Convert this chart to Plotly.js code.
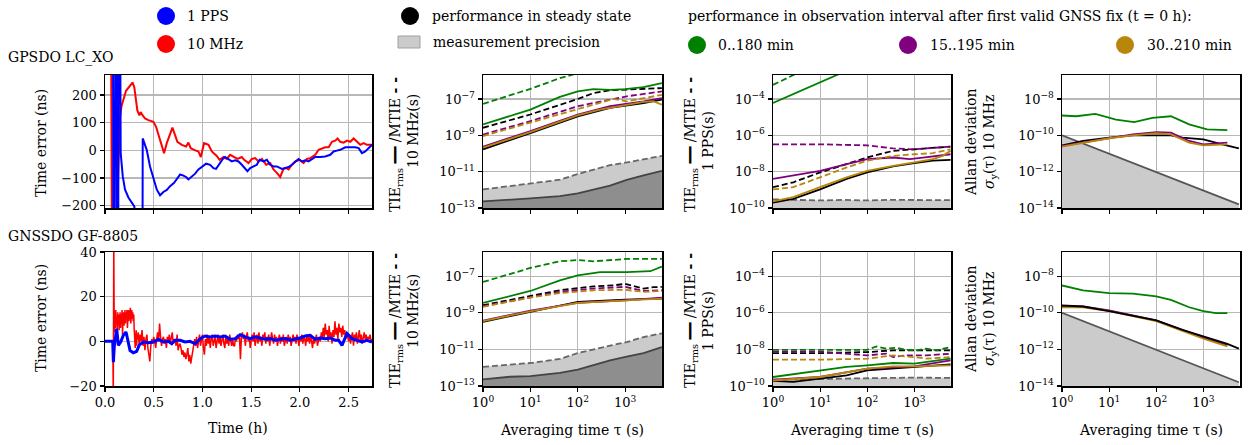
<!DOCTYPE html>
<html><head><meta charset="utf-8">
<script src="https://cdn.plot.ly/plotly-3.0.1.min.js"></script>
<style>html,body{margin:0;padding:0;background:#fff}#c{width:1248px;height:445px}</style>
</head><body><div id="c"></div>
<script>
// ---------------- DATA ----------------
// Time-error series, GPSDO LC_XO (time in h, value in ns)
const gpsRed_t = [0.05,0.085,0.11,0.115,0.154,0.171,0.216,0.240,0.284,0.301,0.332,0.353,0.366,0.387,0.411,0.445,0.497,0.524,0.558,0.606,0.634,0.668,0.692,0.719,0.743,0.788,0.832,0.856,0.880,0.914,0.959,0.983,1.017,1.062,1.096,1.147,1.175,1.216,1.250,1.284,1.318,1.360,1.404,1.428,1.473,1.507,1.541,1.575,1.610,1.654,1.695,1.729,1.764,1.798,1.832,1.860,1.884,1.918,1.952,1.997,2.038,2.072,2.106,2.158,2.192,2.226,2.260,2.295,2.329,2.363,2.387,2.414,2.449,2.483,2.517,2.551,2.586,2.620,2.654,2.688,2.74];
const gpsRed_v = [1500,-1500,-1500,-300,120,162,215,227,245,227,144,126,138,126,115,109,103,85,49,-10,26,55,82,55,31,20,14,28,8,2,-4,-24,26,20,-4,-20,-34,-24,-31,-16,-24,-31,-24,-34,-46,-31,-28,-40,-31,-52,-46,-69,-81,-96,-67,-64,-69,-52,-40,-34,-46,-31,-28,-16,2,8,11,11,31,35,43,31,28,35,31,43,31,20,26,20,20];
const gpsBlue_t = [0.078,0.09,0.115,0.13,0.145,0.161,0.182,0.205,0.240,0.274,0.301,0.34,0.385,0.387,0.428,0.462,0.497,0.531,0.565,0.599,0.634,0.668,0.709,0.743,0.771,0.805,0.832,0.856,0.890,0.925,0.959,0.993,1.038,1.079,1.113,1.140,1.175,1.209,1.233,1.267,1.301,1.336,1.370,1.404,1.438,1.462,1.490,1.524,1.558,1.586,1.627,1.661,1.695,1.729,1.764,1.815,1.849,1.884,1.918,1.952,1.986,2.021,2.055,2.089,2.123,2.158,2.209,2.260,2.312,2.346,2.380,2.414,2.466,2.517,2.568,2.603,2.637,2.671,2.74];
const gpsBlue_v = [1500,-1500,1500,-1500,1500,-10,-93,-141,-170,-188,-202,-400,-400,43,2,-58,-105,-141,-162,-150,-143,-129,-117,-99,-87,-91,-96,-105,-96,-84,-69,-60,-48,-52,-64,-67,-48,-31,-24,-31,-40,-36,-40,-52,-67,-75,-64,-58,-52,-34,-40,-34,-52,-58,-58,-67,-64,-60,-52,-40,-31,-40,-36,-40,-31,-24,-24,-22,-16,-4,-1,2,11,11,11,8,-10,-4,20];

// Time-error series, GNSSDO GF-8805
const gnssRed_t = [0,0.08,0.085,0.09,0.095,0.10,0.105,0.11,0.115,0.12,
 0.125,0.13,0.135,0.14,0.145,0.15,0.155,0.16,0.165,0.17,
 0.175,0.18,0.185,0.19,0.195,0.20,0.205,0.21,0.215,0.22,
 0.225,0.23,0.235,0.24,0.245,0.25,0.255,0.26,0.265,0.27,
 0.275,0.28,0.285,0.29,0.295,0.30,0.305,0.31,0.315,0.32,
 0.325,0.33,0.335,0.34,
 0.35,0.36,0.37,0.38,0.39,0.40,0.41,0.42,0.43,0.44,
 0.45,0.46,0.47,0.48,0.49,0.50,0.51,0.52,0.53,0.54,
 0.55,0.56,0.57,0.58,0.59,0.60,0.61,0.62,0.63,0.64,
 0.65,0.66,0.67,0.68,0.69,0.70,0.71,0.72,0.73,0.74,
 0.75,0.76,0.77,0.78,0.79,0.80,0.81,0.82,0.83,0.84,
 0.85,0.86,0.87,0.88,0.89,0.90,0.91,0.92,0.93,0.94,
 0.95,0.96,0.97,0.98,0.99,1.00,1.01,1.02,1.03,1.04,
 1.05,1.06,1.07,1.08,1.09,1.10,1.11,1.12,1.13,1.14,
 1.15,1.16,1.17,1.18,1.19,1.20,1.21,1.22,1.23,1.24,
 1.25,1.26,1.27,1.28,1.29,1.30,1.31,1.32,1.33,1.34,
 1.35,1.36,1.37,1.38,1.39,1.40,1.41,1.42,1.43,1.44,
 1.45,1.46,1.47,1.48,1.49,1.50,1.51,1.52,1.53,1.54,
 1.55,1.56,1.57,1.58,1.59,1.60,1.61,1.62,1.63,1.64,
 1.65,1.66,1.67,1.68,1.69,1.70,1.71,1.72,1.73,1.74,
 1.75,1.76,1.77,1.78,1.79,1.80,1.81,1.82,1.83,1.84,
 1.85,1.86,1.87,1.88,1.89,1.90,1.91,1.92,1.93,1.94,
 1.95,1.96,1.97,1.98,1.99,2.00,2.01,2.02,2.03,2.04,
 2.05,2.06,2.07,2.08,2.09,2.10,2.11,2.12,2.13,2.14,
 2.15,2.16,2.17,2.18,2.19,2.20,2.21,2.22,2.23,2.24,
 2.25,2.26,2.27,2.28,2.29,2.30,2.31,2.32,2.33,2.34,
 2.35,2.36,2.37,2.38,2.39,2.40,2.41,2.42,2.43,2.44,
 2.45,2.46,2.47,2.48,2.49,2.50,2.51,2.52,2.53,2.54,
 2.55,2.56,2.57,2.58,2.59,2.60,2.61,2.62,2.63,2.64,
 2.65,2.66,2.67,2.68,2.69,2.70,2.71,2.72,2.73,2.74];
const gnssRed_v = [0,0,-25,45,4,12,6,14,8,11,
 4,13,7,12,5,10,13,6,12,9,
 14,3,11,13,7,12,14,8,13,10,
 14,6,12,14,9,13,11,15,8,12,
 14,10,13,9,12,5,0,-3,2,5,
 -2,3,1,4,
 -1,3,0,5,-2,2,-4,1,3,-3,
 -7,-9,-2,1,-1,2,0,-3,1,4,
 0,8,2,-2,1,2,-1,1,-3,2,
 0,3,-1,1,4,-1,1,0,-2,3,
 -4,-2,-1,-3,-6,-4,-7,-5,-8,-6,
 -3,-9,-6,-10,-7,-4,-1,1,-2,2,
 -3,0,3,-2,1,3,-3,-6,1,-2,
 3,-1,2,-3,1,3,-2,0,2,-3,
 1,3,-1,2,-2,0,3,-1,-3,2,
 -1,1,-2,3,0,-2,1,-2,-2,2,
 0,3,1,2,-8,2,4,1,3,-2,
 2,4,0,2,-3,1,3,0,4,-2,
 2,3,-1,4,0,2,-2,3,1,4,
 -1,2,0,3,-2,2,4,1,-1,3,
 0,2,-2,1,3,-1,2,0,3,-2,
 1,2,-1,3,0,2,-2,1,3,0,
 2,-1,3,1,-2,2,0,3,-1,2,
 1,-2,3,0,2,-1,3,0,-3,2,
 -1,1,3,-2,1,2,0,4,1,6,
 2,8,3,5,0,7,2,4,-1,5,
 2,9,3,6,1,8,4,6,2,7,
 3,5,1,4,2,0,3,-1,2,4,
 -2,3,1,4,-1,2,5,0,3,-1,
 2,4,1,3,0,2,1,3,0,1];
const gnssBlue_t = [0,0.079,0.086,0.096,0.120,0.137,0.161,0.188,0.216,0.233,0.257,0.291,0.325,0.353,0.394,0.445,0.497,0.548,0.599,0.651,0.685,0.719,0.771,0.822,0.873,0.925,0.976,1.027,1.079,1.130,1.182,1.233,1.284,1.336,1.387,1.438,1.490,1.541,1.592,1.644,1.695,1.747,1.798,1.849,1.901,1.952,2.003,2.055,2.106,2.158,2.209,2.260,2.312,2.363,2.397,2.432,2.483,2.534,2.586,2.637,2.688,2.74];
const gnssBlue_v = [0,0,-9.3,-1.8,5.7,-1.8,-0.3,2.7,4.2,0.5,-4.1,-5.1,-4.5,-1.5,-0.3,-0.6,-0.3,0.9,-0.3,0,-1.1,0.5,0.5,-0.3,0,-1.1,1.2,2.4,2.0,2.4,2.0,2.4,0.9,1.2,3.0,2.0,1.2,2.0,1.5,0.9,1.2,0.5,0.9,1.2,0.5,0.9,1.5,2.4,2.7,0.9,1.5,1.2,1.5,0.5,0.5,-1.8,3.5,1.2,0.5,-0.3,0.5,-0.3];

// TIE / MTIE, 10 MHz, GPSDO (tau s, value s)
const g10_mtieGreen_tau = [1,10,42,100];
const g10_mtieGreen = [5.4e-8,3.6e-7,1.4e-6,2.6e-6];
const g10_tieGreen_tau = [1,10,42,100,213,480,1000,2450,5960];
const g10_tieGreen = [4.0e-9,2.6e-8,1.29e-7,2.6e-7,3.5e-7,3.2e-7,3.5e-7,4.5e-7,7.4e-7];
const g10_mtieBlack_tau = [1,10,100,213,480,1080,5960];
const g10_mtieBlack = [2.6e-9,1.4e-8,1.0e-7,2.1e-7,3.0e-7,3.2e-7,4.0e-7];
const g10_mtiePurple_tau = [1,10,100,480,1080,5960];
const g10_mtiePurple = [1.1e-9,6.0e-9,4.0e-8,9.1e-8,1.4e-7,2.6e-7];
const g10_mtieOrange_tau = [1,10,100,295,565,1080,5960];
const g10_mtieOrange = [9.1e-10,4.9e-9,2.8e-8,6.0e-8,1.0e-7,7.4e-8,1.7e-7];
const g10_tiePurple_tau = [1,10,100,480,2450,5960];
const g10_tiePurple = [2.4e-10,1.7e-9,1.4e-8,4.0e-8,7.4e-8,1.1e-7];
const g10_tieOrange_tau = [1,10,100,295,780,2450,4000,5960];
const g10_tieOrange = [2.1e-10,1.5e-9,1.26e-8,2.6e-8,4.0e-8,6.9e-8,7.4e-8,4.9e-8];
const g10_tieBlack_tau = [1,10,100,480,2450,5960];
const g10_tieBlack = [1.7e-10,1.3e-9,1.1e-8,3.2e-8,6.0e-8,9.1e-8];
const prec10_tau = [1,3.7,10,42,100,480,1080,2450,5960];
const g10_precMtie = [1.05e-12,1.6e-12,2.1e-12,3.6e-12,7.4e-12,2.3e-11,3.2e-11,5.0e-11,7.4e-11];
const g10_precTie = [2.3e-13,2.8e-13,3.4e-13,4.5e-13,6.3e-13,1.7e-12,3.5e-12,6.3e-12,1.1e-11];

// TIE / MTIE, 1 PPS, GPSDO
const g1_mtieGreen_tau = [1,5];
const g1_mtieGreen = [6e-4,4.5e-3];
const g1_tieGreen_tau = [1,10,40];
const g1_tieGreen = [6e-5,8.5e-4,4e-3];
const g1_mtiePurple_tau = [1,10,100,355,1000,2460,5870];
const g1_mtiePurple = [3.2e-7,3.2e-7,2.8e-7,1.9e-7,1.7e-7,2.1e-7,2.4e-7];
const g1_mtieBlack_tau = [1,2.7,10,36.6,100,355,1000,5870];
const g1_mtieBlack = [1.4e-9,2.6e-9,9.1e-9,2.6e-8,6.0e-8,1.4e-7,1.7e-7,2.4e-7];
const g1_tiePurple_tau = [1,2.7,10,36.6,100,355,800,1520,5870];
const g1_tiePurple = [4.0e-9,6.0e-9,1.1e-8,2.6e-8,4.9e-8,6.0e-8,4.9e-8,6.0e-8,9.1e-8];
const g1_mtieOrange_tau = [1,2.7,10,36.6,100,355,1000,2460,5870];
const g1_mtieOrange = [1.05e-9,1.4e-9,4.9e-9,1.7e-8,4.0e-8,7.4e-8,9.1e-8,1.05e-7,1.7e-7];
const g1_tieOrange_tau = [1,2.7,10,36.6,100,355,1000,2460,4000,5870];
const g1_tieOrange = [2.3e-10,4.0e-10,1.4e-9,4.9e-9,1.1e-8,2.1e-8,3.2e-8,4.9e-8,7.4e-8,1.4e-7];
const g1_tieBlack_tau = [1,2.7,10,36.6,100,355,1000,2460,5870];
const g1_tieBlack = [1.95e-10,3.2e-10,1.05e-9,4.0e-9,9.1e-9,1.95e-8,2.95e-8,4.0e-8,4.5e-8];
const prec1_tau = [1,3,10,30,100,300,1000,3000,5870];
const g1_precMtie = [3.0e-10,2.9e-10,2.6e-10,2.8e-10,2.6e-10,2.8e-10,2.7e-10,2.6e-10,2.7e-10];

// Allan deviation, GPSDO
const gAdevGreen_tau = [1,2,5.1,14,34,83,205,500,1200,3230];
const gAdevGreen = [1.23e-9,1.12e-9,1.5e-9,7.4e-10,5.4e-10,9.1e-10,1.12e-9,4.0e-10,2.1e-10,1.95e-10];
const gAdevBlack_tau = [1,2.8,10,32,100,205,360,1000,2520,5670];
const gAdevBlack = [2.8e-11,4.9e-11,7.4e-11,1.0e-10,1.0e-10,1.0e-10,7.4e-11,6.0e-11,3.2e-11,1.9e-11];
const gAdevColor_tau = [1,10,32,100,205,500,1000,3230];
const gAdevPurple = [2.6e-11,7.1e-11,1.12e-10,1.5e-10,1.4e-10,4.9e-11,3.2e-11,4.0e-11];
const gAdevOrange = [2.4e-11,6.9e-11,1.0e-10,1.3e-10,1.12e-10,4.0e-11,2.8e-11,3.2e-11];
const adevPrec_tau = [1,10,100,1000,5670];
const adevPrec = [1e-10,1e-11,1e-12,1e-13,1.6e-14];

// TIE / MTIE, 10 MHz, GNSSDO
const n10_mtieGreen_tau = [1,3.7,10,42,100,213,480,1080,5960];
const n10_mtieGreen = [4.8e-8,1.35e-7,2.8e-7,6.5e-7,7.6e-7,6.5e-7,7.6e-7,8.7e-7,8.7e-7];
const n10_tieGreen_tau = [1,3.7,10,42,100,295,1080,3400,5960];
const n10_tieGreen = [3.5e-9,7.9e-9,1.55e-8,5.9e-8,1.1e-7,1.66e-7,1.66e-7,1.86e-7,3.3e-7];
const n10_mtieBlack_tau = [1,10,42,213,600,1000,1500,2450,4000,5960];
const n10_mtieBlack = [2.6e-9,7.9e-9,1.7e-8,2.75e-8,3.2e-8,3.8e-8,2.8e-8,2.1e-8,2.5e-8,2.6e-8];
const n10_mtieColor_tau = [1,10,42,213,1000,2450,5960];
const n10_mtiePurple = [2.3e-9,7.2e-9,1.4e-8,2.1e-8,2.6e-8,1.55e-8,1.7e-8];
const n10_mtieOrange = [2.1e-9,6.8e-9,1.2e-8,1.7e-8,1.8e-8,1.4e-8,1.55e-8];
const n10_tie_tau = [1,10,100,1000,5960];
const n10_tiePurple = [3.7e-10,1.3e-9,3.5e-9,4.8e-9,6.8e-9];
const n10_tieBlack = [3.2e-10,1.1e-9,3.9e-9,5.2e-9,5.9e-9];
const n10_tieOrange = [3.5e-10,1.2e-9,3.5e-9,4.5e-9,5.9e-9];
const n10_precMtie = [1.1e-12,1.5e-12,1.8e-12,3.0e-12,6.3e-12,1.6e-11,2.5e-11,4.7e-11,7.6e-11];
const n10_precTie = [2.3e-13,3.2e-13,3.5e-13,5.2e-13,7.9e-13,2.5e-12,4.0e-12,6.3e-12,1.35e-11];

// TIE / MTIE, 1 PPS, GNSSDO
const n1_mtieGreen_tau = [1,10,100,158,256,417,680,1100,1800,2900,5870];
const n1_mtieGreen = [9.5e-9,9.5e-9,9.5e-9,1.45e-8,1.1e-8,1.23e-8,9.5e-9,8.9e-9,1.1e-8,8.9e-9,1.35e-8];
const n1_mtieBlack_tau = [1,10,100,355,1000,5870];
const n1_mtieBlack = [6.3e-9,6.3e-9,7.1e-9,8.9e-9,8.9e-9,8.9e-9];
const n1_mtiePurple_tau = [1,10,100,256,355,680,1800,5870];
const n1_mtiePurple = [7.6e-9,7.6e-9,4.7e-9,5.8e-9,3.8e-9,4.7e-9,4.7e-9,5.8e-9];
const n1_mtieOrange_tau = [1,10,100,355,1000,1800,5870];
const n1_mtieOrange = [2.75e-9,2.75e-9,3.1e-9,4.7e-9,3.8e-9,3.1e-9,3.8e-9];
const n1_tieGreen_tau = [1,10,36.6,100,355,1000,5870];
const n1_tieGreen = [3.1e-10,7.1e-10,1.1e-9,1.35e-9,1.8e-9,1.66e-9,3.1e-9];
const n1_tiePurple_tau = [1,10,100,1000,5870];
const n1_tiePurple = [2.2e-10,3.1e-10,8.9e-10,1.17e-9,2.5e-9];
const n1_tieOrange_tau = [1,10,100,355,1000,5870];
const n1_tieOrange = [2.0e-10,3.1e-10,8.9e-10,1.17e-9,1.17e-9,1.35e-9];
const n1_tieBlack_tau = [1,2.7,10,36.6,100,1000,5870];
const n1_tieBlack = [1.9e-10,1.66e-10,2.5e-10,3.8e-10,7.1e-10,1.1e-9,1.5e-9];
const n1_precMtie = [2.2e-10,2.3e-10,2.4e-10,2.6e-10,2.8e-10,3.0e-10,2.9e-10,2.8e-10,2.8e-10];

// Allan deviation, GNSSDO
const nAdevGreen_tau = [1,2.8,10,32,100,205,500,1000,1850,3230];
const nAdevGreen = [3.1e-9,1.66e-9,1.17e-9,1.1e-9,7.8e-10,5.1e-10,2.0e-10,1.23e-10,9.5e-11,9.5e-11];
const nAdevBlack_tau = [1,2.8,10,32,100,360,1000,3230,5670];
const nAdevBlack = [2.5e-10,2.2e-10,1.23e-10,7.1e-11,3.8e-11,1.17e-11,5.1e-12,2.0e-12,1.1e-12];
const nAdevColor_tau = [1,2.8,10,100,1000,3230];
const nAdevPurple = [2.2e-10,2.2e-10,1.35e-10,3.8e-11,4.4e-12,1.66e-12];
const nAdevOrange = [2.0e-10,2.0e-10,1.23e-10,3.5e-11,3.8e-12,1.45e-12];

// Tick labels
const timeTicks = [0,0.5,1,1.5,2,2.5];
const timeTickText = ['0.0','0.5','1.0','1.5','2.0','2.5'];
const tauTicks = [1,10,100,1000];
const tauTickText = ['10<sup>0</sup>','10<sup>1</sup>','10<sup>2</sup>','10<sup>3</sup>'];
const teTicks1 = [-200,-100,0,100,200];
const teTicks2 = [-20,0,20,40];
const tie10Ticks = [1e-13,1e-11,1e-9,1e-7];
const tie10Text = ['10<sup>−13</sup>','10<sup>−11</sup>','10<sup>−9</sup>','10<sup>−7</sup>'];
const tie1Ticks = [1e-10,1e-8,1e-6,1e-4];
const tie1Text = ['10<sup>−10</sup>','10<sup>−8</sup>','10<sup>−6</sup>','10<sup>−4</sup>'];
const adevTicks = [1e-14,1e-12,1e-10,1e-8];
const adevText = ['10<sup>−14</sup>','10<sup>−12</sup>','10<sup>−10</sup>','10<sup>−8</sup>'];

// ---------------- STYLE / LAYOUT ----------------
const W = 1248, H = 445, F = '"DejaVu Serif", serif';
const GREEN = '#008000', PURPLE = '#800080', GOLD = '#b8860b', BLACK = '#000000';
const LIGHT = '#cbcbcb', DARK = '#8e8e8e';
const px = x => x / W, py = y => 1 - y / H;

function ln(xa, ya, x, y, color, dash, width, extra) {
  return Object.assign({type:'scatter', mode:'lines', xaxis:xa, yaxis:ya, x:x, y:y,
    line:{color:color, width:width||1.8, dash:dash?'6px,3px':'solid'}, hoverinfo:'skip', showlegend:false}, extra||{});
}
function fillTr(xa, ya, x, y, fillc, linec, dash) {
  return ln(xa, ya, x, y, linec, dash, 1.8, {fill:'tozeroy', fillcolor:fillc});
}

const traces = [];
// Col 1
traces.push(ln('x','y', gpsRed_t, gpsRed_v, '#ff0000', false, 2));
traces.push(ln('x','y', gpsBlue_t, gpsBlue_v, '#0000ff', false, 2));
traces.push(ln('x5','y5', gnssRed_t, gnssRed_v, '#ff0000', false, 1.5));
traces.push(ln('x5','y5', gnssBlue_t, gnssBlue_v, '#0000ff', false, 3));
// Col 2 row 1
traces.push(fillTr('x2','y2', prec10_tau, g10_precMtie, LIGHT, '#666666', true));
traces.push(fillTr('x2','y2', prec10_tau, g10_precTie, DARK, '#444444', false));
traces.push(ln('x2','y2', g10_tieBlack_tau, g10_tieBlack, BLACK, false));
traces.push(ln('x2','y2', g10_mtieBlack_tau, g10_mtieBlack, BLACK, true));
traces.push(ln('x2','y2', g10_tieGreen_tau, g10_tieGreen, GREEN, false));
traces.push(ln('x2','y2', g10_mtieGreen_tau, g10_mtieGreen, GREEN, true));
traces.push(ln('x2','y2', g10_tiePurple_tau, g10_tiePurple, PURPLE, false));
traces.push(ln('x2','y2', g10_mtiePurple_tau, g10_mtiePurple, PURPLE, true));
traces.push(ln('x2','y2', g10_tieOrange_tau, g10_tieOrange, GOLD, false));
traces.push(ln('x2','y2', g10_mtieOrange_tau, g10_mtieOrange, GOLD, true));
// Col 3 row 1
traces.push(fillTr('x3','y3', prec1_tau, g1_precMtie, LIGHT, '#666666', true));
traces.push(ln('x3','y3', g1_tieBlack_tau, g1_tieBlack, BLACK, false));
traces.push(ln('x3','y3', g1_mtieBlack_tau, g1_mtieBlack, BLACK, true));
traces.push(ln('x3','y3', g1_tieGreen_tau, g1_tieGreen, GREEN, false));
traces.push(ln('x3','y3', g1_mtieGreen_tau, g1_mtieGreen, GREEN, true));
traces.push(ln('x3','y3', g1_tiePurple_tau, g1_tiePurple, PURPLE, false));
traces.push(ln('x3','y3', g1_mtiePurple_tau, g1_mtiePurple, PURPLE, true));
traces.push(ln('x3','y3', g1_tieOrange_tau, g1_tieOrange, GOLD, false));
traces.push(ln('x3','y3', g1_mtieOrange_tau, g1_mtieOrange, GOLD, true));
// Col 4 row 1
traces.push(fillTr('x4','y4', adevPrec_tau, adevPrec, LIGHT, '#555555', false));
traces.push(ln('x4','y4', gAdevBlack_tau, gAdevBlack, BLACK, false));
traces.push(ln('x4','y4', gAdevGreen_tau, gAdevGreen, GREEN, false));
traces.push(ln('x4','y4', gAdevColor_tau, gAdevPurple, PURPLE, false));
traces.push(ln('x4','y4', gAdevColor_tau, gAdevOrange, GOLD, false));
// Col 2 row 2
traces.push(fillTr('x6','y6', prec10_tau, n10_precMtie, LIGHT, '#666666', true));
traces.push(fillTr('x6','y6', prec10_tau, n10_precTie, DARK, '#444444', false));
traces.push(ln('x6','y6', n10_tie_tau, n10_tieBlack, BLACK, false));
traces.push(ln('x6','y6', n10_mtieBlack_tau, n10_mtieBlack, BLACK, true));
traces.push(ln('x6','y6', n10_tieGreen_tau, n10_tieGreen, GREEN, false));
traces.push(ln('x6','y6', n10_mtieGreen_tau, n10_mtieGreen, GREEN, true));
traces.push(ln('x6','y6', n10_tie_tau, n10_tiePurple, PURPLE, false));
traces.push(ln('x6','y6', n10_mtieColor_tau, n10_mtiePurple, PURPLE, true));
traces.push(ln('x6','y6', n10_tie_tau, n10_tieOrange, GOLD, false));
traces.push(ln('x6','y6', n10_mtieColor_tau, n10_mtieOrange, GOLD, true));
// Col 3 row 2
traces.push(fillTr('x7','y7', prec1_tau, n1_precMtie, LIGHT, '#666666', true));
traces.push(ln('x7','y7', n1_tieBlack_tau, n1_tieBlack, BLACK, false));
traces.push(ln('x7','y7', n1_mtieBlack_tau, n1_mtieBlack, BLACK, true));
traces.push(ln('x7','y7', n1_mtiePurple_tau, n1_mtiePurple, PURPLE, true));
traces.push(ln('x7','y7', n1_mtieGreen_tau, n1_mtieGreen, GREEN, true));
traces.push(ln('x7','y7', n1_tieGreen_tau, n1_tieGreen, GREEN, false));
traces.push(ln('x7','y7', n1_tiePurple_tau, n1_tiePurple, PURPLE, false));
traces.push(ln('x7','y7', n1_tieOrange_tau, n1_tieOrange, GOLD, false));
traces.push(ln('x7','y7', n1_mtieOrange_tau, n1_mtieOrange, GOLD, true));
// Col 4 row 2
traces.push(fillTr('x8','y8', adevPrec_tau, adevPrec, LIGHT, '#555555', false));
traces.push(ln('x8','y8', nAdevGreen_tau, nAdevGreen, GREEN, false));
traces.push(ln('x8','y8', nAdevColor_tau, nAdevPurple, PURPLE, false));
traces.push(ln('x8','y8', nAdevColor_tau, nAdevOrange, GOLD, false));
traces.push(ln('x8','y8', nAdevBlack_tau, nAdevBlack, BLACK, false));

const base = {showline:true, mirror:true, linecolor:'black', linewidth:1.5, ticks:'outside', ticklen:4,
  tickwidth:1.2, tickcolor:'black', showgrid:true, gridcolor:'#b8b8b8', gridwidth:1.2, zeroline:false,
  tickfont:{family:F, size:13, color:'black'}, fixedrange:true, layer:'above traces'};
const cols = [[105,372],[483,662],[773,951],[1062,1240]];
const rows = [[75,208],[252,386]];
function xa(col, row, extra){ const n=row*4+col+1; return Object.assign({}, base, {domain:[px(cols[col][0]), px(cols[col][1])], anchor:'y'+(n===1?'':n)}, extra); }
function ya(col, row, extra){ const n=row*4+col+1; return Object.assign({}, base, {domain:[py(rows[row][1]), py(rows[row][0])], anchor:'x'+(n===1?'':n)}, extra); }
const timeX = {range:[0,2.74], tickvals:timeTicks, ticktext:timeTickText};
const tauX = {type:'log', range:[0,3.778], tickvals:tauTicks, ticktext:tauTickText};

const layout = {
  width:W, height:H, margin:{l:0,r:0,t:0,b:0}, paper_bgcolor:'#fff', plot_bgcolor:'#fff',
  font:{family:F, color:'black'}, showlegend:false,
  xaxis:  xa(0,0, Object.assign({showticklabels:false}, timeX)),
  yaxis:  ya(0,0, {range:[-208,272], tickvals:teTicks1}),
  xaxis2: xa(1,0, Object.assign({showticklabels:false}, tauX)),
  yaxis2: ya(1,0, {type:'log', range:[-13,-5.68], tickvals:tie10Ticks, ticktext:tie10Text}),
  xaxis3: xa(2,0, Object.assign({showticklabels:false}, tauX)),
  yaxis3: ya(2,0, {type:'log', range:[-10,-2.68], tickvals:tie1Ticks, ticktext:tie1Text}),
  xaxis4: xa(3,0, Object.assign({showticklabels:false}, tauX)),
  yaxis4: ya(3,0, {type:'log', range:[-14,-6.68], tickvals:adevTicks, ticktext:adevText}),
  xaxis5: xa(0,1, timeX),
  yaxis5: ya(0,1, {range:[-20,40], tickvals:teTicks2}),
  xaxis6: xa(1,1, tauX),
  yaxis6: ya(1,1, {type:'log', range:[-13,-5.68], tickvals:tie10Ticks, ticktext:tie10Text}),
  xaxis7: xa(2,1, tauX),
  yaxis7: ya(2,1, {type:'log', range:[-10,-2.68], tickvals:tie1Ticks, ticktext:tie1Text}),
  xaxis8: xa(3,1, tauX),
  yaxis8: ya(3,1, {type:'log', range:[-14,-6.68], tickvals:adevTicks, ticktext:adevText}),
  annotations:[], shapes:[]
};

function txt(x, y, t, opts) {
  layout.annotations.push(Object.assign({xref:'paper', yref:'paper', x:px(x), y:py(y), text:t, showarrow:false,
    xanchor:'left', yanchor:'middle', font:{family:F, size:14, color:'black'}}, opts||{}));
}
function vtxt(x, y, t, size) {
  txt(x, y, t, {textangle:-90, xanchor:'center', yanchor:'middle', font:{family:F, size:size||14, color:'black'}});
}
function dot(x, y, color) {
  layout.shapes.push({type:'circle', xref:'paper', yref:'paper', xsizemode:'pixel', ysizemode:'pixel',
    xanchor:px(x), yanchor:py(y), x0:-9, x1:9, y0:-9, y1:9, fillcolor:color, line:{color:color, width:0}});
}
// Legend
dot(166, 16, '#0000ff'); txt(185, 16, '1 PPS');
dot(166, 44, '#ff0000'); txt(185, 44, '10 MHz');
dot(410, 16, '#000000'); txt(430, 16, 'performance in steady state');
layout.shapes.push({type:'rect', xref:'paper', yref:'paper', x0:px(398), x1:px(420), y0:py(48), y1:py(36), fillcolor:LIGHT, line:{color:'#a0a0a0', width:1}});
txt(431, 42, 'measurement precision');
txt(686, 16, 'performance in observation interval after first valid GNSS fix (t = 0 h):');
dot(697, 45, GREEN); txt(716, 45, '0..180 min');
dot(908, 45, PURPLE); txt(928, 45, '15..195 min');
dot(1125, 45, GOLD); txt(1145, 45, '30..210 min');
// Row labels
txt(6, 57, 'GPSDO LC_XO');
txt(6, 236, 'GNSSDO GF-8805');
// Y titles
vtxt(41, 143, 'Time error (ns)');
vtxt(41, 318, 'Time error (ns)');
const tieLine = 'TIE<sub>rms</sub> <b>━━</b> /MTIE <b>- -</b>';
vtxt(396, 145, tieLine); vtxt(413, 131, '10 MHz(s)');
vtxt(396, 321, tieLine); vtxt(413, 311, '10 MHz(s)');
vtxt(691, 145, tieLine); vtxt(708, 141, '1 PPS(s)');
vtxt(691, 321, tieLine); vtxt(708, 321, '1 PPS(s)');
vtxt(981, 143, 'Allan deviation<br><i>σ</i><sub>y</sub>(τ) 10 MHz');
vtxt(981, 320, 'Allan deviation<br><i>σ</i><sub>y</sub>(τ) 10 MHz');
// X titles
txt(238, 428, 'Time (h)', {xanchor:'center'});
txt(572, 430, 'Averaging time τ (s)', {xanchor:'center'});
txt(862, 430, 'Averaging time τ (s)', {xanchor:'center'});
txt(1151, 430, 'Averaging time τ (s)', {xanchor:'center'});

Plotly.newPlot('c', traces, layout, {staticPlot:true, displayModeBar:false});
</script></body></html>
